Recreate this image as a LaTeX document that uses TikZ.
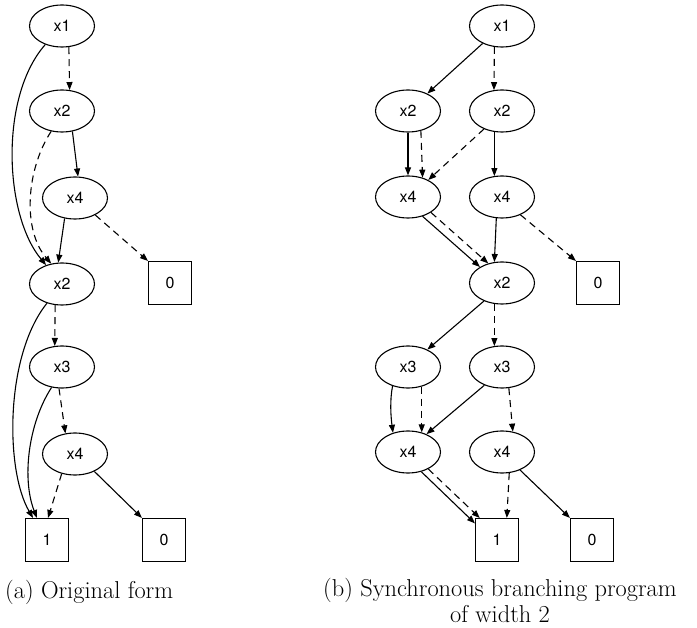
\documentclass[tikz,border=0pt]{standalone}
\usepackage{fontspec}
\newfontfamily\nodefont{TeX Gyre Heros}
\usetikzlibrary{shapes.geometric,arrows.meta}
\begin{document}
\begin{tikzpicture}[x=1pt,y=-1pt,
  var/.style={ellipse,draw,line width=1.1pt,minimum width=65pt,minimum height=42pt,
    inner sep=0pt,font=\nodefont\fontsize{16}{19}\selectfont},
  term/.style={rectangle,draw,line width=1.1pt,minimum size=43pt,inner sep=0pt,
    font=\nodefont\fontsize{16}{19}\selectfont},
  hi/.style={line width=1.1pt,-{Stealth[length=8pt,width=6pt,inset=0pt]}},
  lo/.style={hi,dash pattern=on 7pt off 5pt},
  caption/.style={inner sep=0pt,font=\fontsize{24.4}{27}\selectfont}]
\useasboundingbox (0,0) rectangle (697,628);

% (a) original form
\node[var] (a1) at (62,26) {x1};
\node[var] (a2) at (62,111) {x2};
\node[var] (a4) at (75,198) {x4};
\node[var] (a2b) at (62,284) {x2};
\node[term] (a0) at (170,283) {0};
\node[var] (a3) at (62,367) {x3};
\node[var] (a4b) at (75,454) {x4};
\node[term] (a1t) at (47,540) {1};
\node[term] (a0t) at (164,540) {0};

\draw[lo] (a1.-72) -- (a2.70);
\draw[hi] (a1.-132) .. controls +(-46,52) and +(-42,-50) .. (a2b.130);
\draw[hi] (a2.-63) -- (a4.82);
\draw[lo] (a2.-118) .. controls +(-25,38) and +(-29,-34) .. (a2b.118);
\draw[hi] (a4.-117) -- (a2b.100);
\draw[lo] (a4.-40) -- (a0.north west);
\draw[hi] (a2b.-128) .. controls +(-42,52) and +(-28,-48) .. ([xshift=-14pt]a1t.north);
\draw[lo] (a2b.-108) -- (a3.109);
\draw[hi] (a3.-117) .. controls +(-24,37) and +(-15,-38) .. ([xshift=-10pt]a1t.north);
\draw[lo] (a3.-98) -- (a4b.115);
\draw[lo] (a4b.-124) -- ([xshift=1pt]a1t.north);
\draw[hi] (a4b.-42) -- (a0t.north west);

% (b) synchronous branching program of width 2
\node[var] (b1) at (502,26) {x1};
\node[var] (b2l) at (408,111) {x2};
\node[var] (b2r) at (502,111) {x2};
\node[var] (b4l) at (408,197) {x4};
\node[var] (b4r) at (502,197) {x4};
\node[var] (b2m) at (502,283) {x2};
\node[term] (b0) at (598,283) {0};
\node[var] (b3l) at (408,367) {x3};
\node[var] (b3r) at (502,367) {x3};
\node[var] (b4lb) at (408,452) {x4};
\node[var] (b4rb) at (502,452) {x4};
\node[term] (b1t) at (497,540) {1};
\node[term] (b0t) at (592,540) {0};

\draw[hi] (b1.-138) -- (b2l.42);
\draw[lo] (b1.-110) -- (b2r.111);
\draw[hi] (b2l.-90) -- (b4l.90);
\draw[lo] (b2l.-57) -- (b4l.53);
\draw[lo] (b2r.-135) -- (b4l.40);
\draw[hi] (b2r.-110) -- (b4r.110);
\draw[hi] (b4l.-53) -- (b2m.144);
\draw[lo] (b4l.-34) -- (b2m.125);
\draw[hi] (b4r.-105) -- (b2m.110);
\draw[lo] (b4r.-44) -- (b0.north west);
\draw[hi] (b2m.-135) -- (b3l.42);
\draw[lo] (b2m.-110) -- (b3r.110);
\draw[hi] (b3l.-129) .. controls +(-3,15) and +(-2,-15) .. (b4lb.128);
\draw[lo] (b3l.-55) -- (b4lb.55);
\draw[hi] (b3r.-134) -- (b4lb.44);
\draw[lo] (b3r.-72) -- (b4rb.62);
\draw[hi] (b4lb.-56) -- (b1t.143);
\draw[lo] (b4lb.-40) -- (b1t.128);
\draw[lo] (b4rb.-71) -- (b1t.66);
\draw[hi] (b4rb.-45) -- (b0t.north west);

% captions
\node[caption,anchor=base west] (capa) at (5,598) {(a) Original form};
\node[caption,anchor=base] (capb) at (500,597) {(b) Synchronous branching program};
\node[caption,anchor=base] (capc) at (500,622) {of width 2};
\end{tikzpicture}
\end{document}
